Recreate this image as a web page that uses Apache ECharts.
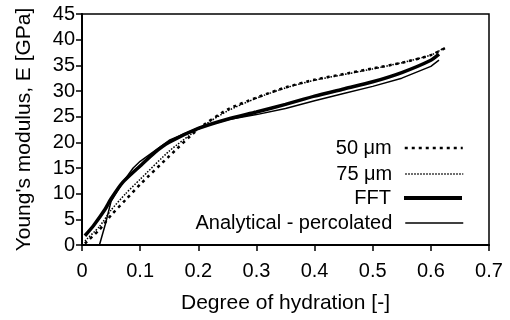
<!DOCTYPE html>
<html>
<head>
<meta charset="utf-8">
<script src="https://cdn.jsdelivr.net/npm/echarts@6/dist/echarts.min.js"></script>
<style>
  html, body { margin: 0; padding: 0; background: #fff; }
  #box { width: 510px; height: 320px; }
</style>
</head>
<body>
<div id="box"></div>
<script>
// values (degree of hydration, E in GPa)
var um50X = [0.005, 0.03, 0.05, 0.075, 0.1, 0.15, 0.2, 0.25, 0.3, 0.35, 0.4, 0.45, 0.5, 0.55, 0.6, 0.63];
var um50Y = [0.3, 3, 5.8, 8.8, 11.8, 17.3, 22.6, 26.4, 28.7, 30.7, 32.2, 33.3, 34.4, 35.5, 37, 38.7];

var um75X = [0.005, 0.03, 0.05, 0.075, 0.1, 0.15, 0.2, 0.25, 0.3, 0.35, 0.4, 0.45, 0.5, 0.55, 0.6, 0.62];
var um75Y = [0.8, 3.6, 6.8, 10, 12.8, 18.3, 22.6, 26.1, 28.6, 30.6, 32.1, 33.2, 34.3, 35.5, 37, 38.2];

var fftX = [0.005, 0.02, 0.04, 0.05, 0.07, 0.1, 0.125, 0.15, 0.2, 0.25, 0.3, 0.35, 0.4, 0.45, 0.5, 0.55, 0.6, 0.614];
var fftY = [1.8, 3.8, 7, 9, 12.2, 15.4, 18, 20, 22.7, 24.5, 25.9, 27.4, 29, 30.4, 31.8, 33.6, 36, 37.2];

var anaX = [0.03, 0.04, 0.05, 0.07, 0.088, 0.1, 0.15, 0.2, 0.25, 0.3, 0.35, 0.4, 0.45, 0.5, 0.55, 0.6, 0.614];
var anaY = [0, 4, 8.5, 12.2, 15, 16.3, 20.4, 22.8, 24.4, 25.4, 26.6, 28.1, 29.5, 30.9, 32.5, 34.8, 36];

var names = ['50 \u03bcm', '75 \u03bcm', 'FFT', 'Analytical - percolated'];
var legendWidths = [2.5, 1.5, 4, 1.5];

function pairs(xs, ys) {
    var list = [];
    for (let i = 0; i < xs.length; i++) {
        list.push([xs[i], ys[i]]);
    }
    return list;
}

var font = 'Liberation Sans';
var myChart = echarts.init(document.getElementById('box'));

var legendTops = [138, 164, 188, 213];
var legends = [];
for (let i = 0; i < names.length; i++) {
    legends.push({
        data: [names[i]],
        right: 46,
        top: legendTops[i],
        padding: 0,
        itemWidth: 58,
        itemHeight: 14,
        align: 'right',
        itemStyle: { opacity: 0 },
        lineStyle: { width: legendWidths[i] },
        textStyle: { fontFamily: font, fontSize: 20, color: '#000', padding: [0, 8, 0, 0] }
    });
}

var option = {
    backgroundColor: '#fff',
    animation: false,
    grid: {
        left: 82, top: 14, right: 21, bottom: 75,
        show: true,
        borderColor: '#000',
        borderWidth: 1.5
    },
    legend: legends,
    xAxis: {
        type: 'value',
        min: 0, max: 0.7, interval: 0.1,
        name: 'Degree of hydration [-]',
        nameLocation: 'middle',
        nameGap: 48,
        nameTextStyle: { fontFamily: font, fontSize: 21, color: '#000' },
        axisLine: { lineStyle: { color: '#000', width: 2 } },
        axisTick: { length: 6, lineStyle: { color: '#000', width: 1.5 } },
        axisLabel: {
            fontFamily: font, fontSize: 20, color: '#000', margin: 16,
            formatter: function (v) { return String(Math.round(v * 10) / 10); }
        },
        splitLine: { show: false }
    },
    yAxis: {
        type: 'value',
        min: 0, max: 45, interval: 5,
        name: "Young's modulus, E [GPa]",
        nameLocation: 'middle',
        nameGap: 47,
        nameTextStyle: { fontFamily: font, fontSize: 21, color: '#000' },
        axisLine: { show: true, lineStyle: { color: '#000', width: 2 } },
        axisTick: { show: true, length: 6, lineStyle: { color: '#000', width: 1.5 } },
        axisLabel: { fontFamily: font, fontSize: 20, color: '#000', margin: 7 },
        splitLine: { show: false }
    },
    series: [{
        name: names[0],
        type: 'line',
        symbol: 'none',
        smooth: 0.2,
        data: pairs(um50X, um50Y),
        color: '#000',
        lineStyle: { color: '#000', width: 2.5, type: [3, 4] }
    }, {
        name: names[1],
        type: 'line',
        symbol: 'none',
        smooth: 0.2,
        data: pairs(um75X, um75Y),
        color: '#000',
        lineStyle: { color: '#000', width: 1.5, type: [1.5, 1.5] }
    }, {
        name: names[2],
        type: 'line',
        symbol: 'none',
        smooth: 0.2,
        data: pairs(fftX, fftY),
        color: '#000',
        lineStyle: { color: '#000', width: 3.5 }
    }, {
        name: names[3],
        type: 'line',
        symbol: 'none',
        data: pairs(anaX, anaY),
        color: '#000',
        lineStyle: { color: '#000', width: 1.5 }
    }]
};
myChart.setOption(option);
</script>
</body>
</html>
